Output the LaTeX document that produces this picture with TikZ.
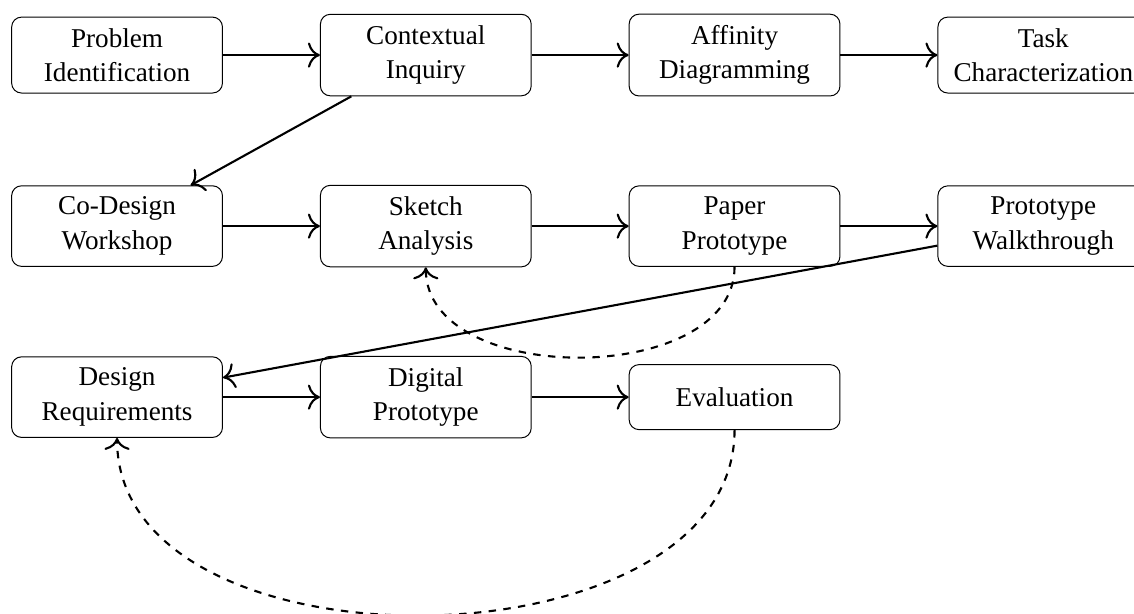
\documentclass[tikz,border=0pt]{standalone}
\usepackage{fontspec}
\setmainfont{Liberation Serif}
\usepackage{tikz}
\usetikzlibrary{positioning,arrows.meta}
\tikzstyle{stage}=[draw, rounded corners, minimum width=3cm, minimum height=0.925cm, inner sep=4.5pt, align=center, font=\fontsize{11}{14}\selectfont]
\tikzstyle{arrow}=[draw, line width=0.85pt, -{To[scale=1.4]}]
\tikzstyle{back}=[draw, line width=0.85pt, dashed, -{To[scale=1.4]}]

\begin{document}
\begin{tikzpicture}[node distance=2.434cm]
\useasboundingbox (-47.4pt,22.3pt) rectangle (411.8pt,-226.3pt);

\node (problem) [stage] {Problem\\Identification};
\node (inquiry) [stage, right=1.38cm of problem] {Contextual\\Inquiry};
\node (affinity) [stage, right=1.38cm of inquiry] {Affinity\\Diagramming};
\node (task) [stage, right=1.38cm of affinity] {Task\\Characterization};

\node (codesign) [stage, below of=problem] {Co-Design\\Workshop};
\node (sketch) [stage, right=1.38cm of codesign] {Sketch\\Analysis};
\node (paper) [stage, right=1.38cm of sketch] {Paper\\Prototype};
\node (walk) [stage, right=1.38cm of paper] {Prototype\\Walkthrough};

\node (req) [stage, below of=codesign] {Design\\Requirements};
\node (digital) [stage, right=1.38cm of req] {Digital\\Prototype};
\node (eval) [stage, right=1.38cm of digital] {Evaluation};

\draw [arrow] (problem) -- (inquiry);
\draw [arrow] (inquiry) -- (affinity);
\draw [arrow] (affinity) -- (task);
\draw [arrow] (inquiry) -- (codesign);
\draw [arrow] (codesign) -- (sketch);
\draw [arrow] (sketch) -- (paper);
\draw [arrow] (paper) -- (walk);
\draw [arrow] (walk) -- (req);
\draw [arrow] (req) -- (digital);
\draw [arrow] (digital) -- (eval);

% feedback loops
\draw [back] (paper) to[out=-90,in=-90] (sketch);
\draw [back] (eval) to[out=-90,in=-90] (req);

\end{tikzpicture}
\end{document}
